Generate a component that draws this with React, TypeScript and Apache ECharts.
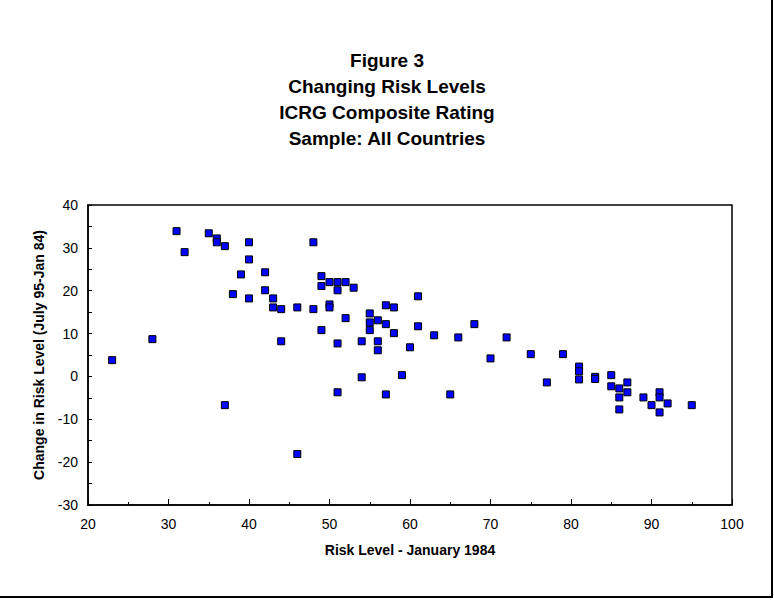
import React, { useEffect, useRef } from "react";
import * as echarts from "echarts";

const titleLines = ["Figure 3", "Changing Risk Levels", "ICRG Composite Rating", "Sample: All Countries"];
const xAxisName = "Risk Level - January 1984";
const yAxisName = "Change in Risk Level (July 95-Jan 84)";

const riskLevel1984 = [
  23, 28, 31, 32, 35, 36, 36, 37, 37, 38, 39, 40, 40, 40, 42, 42, 43, 43, 44, 44,
  46, 46, 48, 48, 49, 49, 49, 50, 50, 50, 51, 51, 51, 51, 52, 52, 53, 54, 54, 55,
  55, 55, 56, 56, 56, 57, 57, 57, 58, 58, 59, 60, 61, 61, 63, 65, 66, 68, 70, 72,
  75, 77, 79, 81, 81, 81, 83, 83, 85, 85, 86, 86, 86, 87, 87, 89, 90, 91, 91, 91,
  92, 95,
];
const riskChange = [
  3.8, 8.7, 33.9, 29.0, 33.4, 32.2, 31.3, 30.4, -6.7, 19.2, 23.8, 31.3, 27.3, 18.2, 24.3, 20.1, 18.2, 16.1, 15.7, 8.2,
  16.1, -18.1, 31.3, 15.7, 23.4, 21.1, 10.8, 22.0, 16.8, 16.1, 22.0, 20.1, 7.7, -3.7, 22.0, 13.6, 20.7, 8.2, -0.2, 14.7,
  12.6, 10.8, 13.1, 8.2, 6.1, 16.6, 12.2, -4.2, 16.1, 10.1, 0.3, 6.8, 18.7, 11.7, 9.6, -4.2, 9.1, 12.2, 4.2, 9.1,
  5.2, -1.4, 5.2, 2.3, 1.2, -0.7, -0.1, -0.6, 0.3, -2.3, -2.8, -4.9, -7.7, -1.4, -3.7, -4.9, -6.7, -3.7, -4.9, -8.4,
  -6.3, -6.7,
];

export default function App() {
  const ref = useRef<HTMLDivElement>(null);
  useEffect(() => {
    if (!ref.current) return;
    const chart = echarts.init(ref.current, null, { renderer: "svg" });
    const font = "'Liberation Sans', Arial, sans-serif";
    const data = riskLevel1984.map((x, i) => [x, riskChange[i]]);
    chart.setOption({
      animation: false,
      backgroundColor: "#ffffff",
      title: {
        text: titleLines.join("\n"),
        left: "center",
        top: 42,
        textStyle: { fontFamily: font, fontSize: 19, fontWeight: "bold", color: "#000", lineHeight: 26 },
      },
      grid: {
        left: 88,
        top: 205,
        right: 42,
        bottom: 95,
        show: true,
        borderColor: "#000",
        borderWidth: 1.5,
        backgroundColor: "transparent",
      },
      xAxis: {
        type: "value",
        min: 20,
        max: 100,
        interval: 10,
        name: xAxisName,
        nameLocation: "middle",
        nameGap: 38,
        nameTextStyle: { fontFamily: font, fontSize: 14, fontWeight: "bold", color: "#000" },
        axisLine: { show: true, onZero: false, lineStyle: { color: "#000", width: 1.5 } },
        axisTick: { show: true, inside: true, length: 6, lineStyle: { color: "#000" } },
        minorTick: { show: true, splitNumber: 2, length: 3, lineStyle: { color: "#000" } },
        axisLabel: { fontFamily: font, fontSize: 14, color: "#000", margin: 12 },
        splitLine: { show: false },
      },
      yAxis: {
        type: "value",
        min: -30,
        max: 40,
        interval: 10,
        name: yAxisName,
        nameLocation: "middle",
        nameGap: 42,
        nameRotate: 90,
        nameTextStyle: { fontFamily: font, fontSize: 14, fontWeight: "bold", color: "#000" },
        axisLine: { show: true, onZero: false, lineStyle: { color: "#000", width: 1.5 } },
        axisTick: { show: true, inside: true, length: 4, lineStyle: { color: "#000" } },
        minorTick: { show: true, splitNumber: 2, length: 4, lineStyle: { color: "#000" } },
        axisLabel: { fontFamily: font, fontSize: 14, color: "#000", margin: 10 },
        splitLine: { show: false },
      },
      graphic: [
        { type: "line", shape: { x1: 772, y1: 0, x2: 772, y2: 598 }, style: { stroke: "#000", lineWidth: 2 } },
        { type: "line", shape: { x1: 0, y1: 597, x2: 773, y2: 597 }, style: { stroke: "#000", lineWidth: 2 } },
      ],
      series: [
        {
          type: "scatter",
          data,
          symbol: "rect",
          symbolSize: 7,
          itemStyle: { color: "#0000ff", opacity: 1, borderColor: "#000", borderWidth: 1 },
        },
      ],
    });
    return () => chart.dispose();
  }, []);
  return <div ref={ref} style={{ position: "fixed", left: 0, top: 0, width: 774, height: 600 }} />;
}
